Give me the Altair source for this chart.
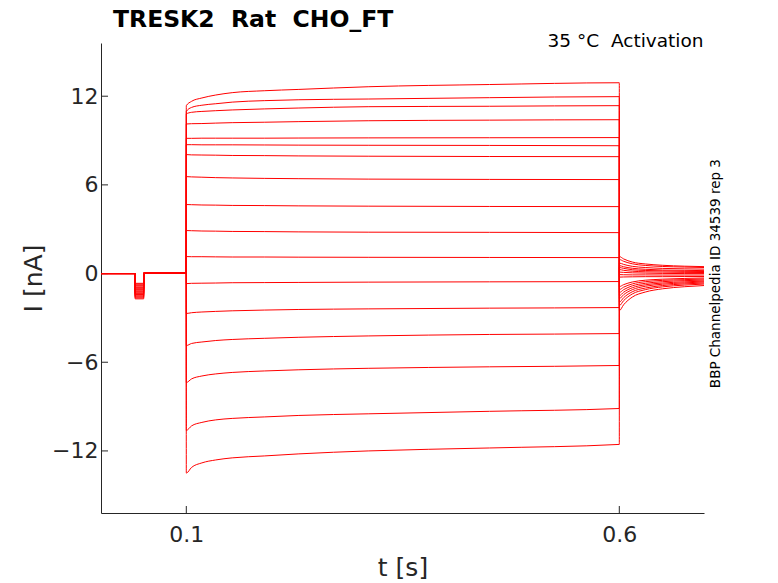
import altair as alt
import pandas as pd

# ---------------- data ----------------
T_DOMAIN = [0.0015, 0.6978]
I_DOMAIN = [-16.2, 15.6]
X_TICKS = [0.1, 0.6]
Y_TICKS = [-12, -6, 0, 6, 12]

PRE_T = [0.0015, 0.0408]          # holding segment (I = 0)
PRE_I = 0.0
PULSE_T = [0.0409, 0.0508]        # short test pulse
POST_T = [0.0509, 0.0999]         # back to holding
POST_I = 0.03
STEP_T = [0.1, 0.106, 0.118, 0.134, 0.153, 0.19, 0.23, 0.31, 0.45, 0.6]
TAIL_T = [0.6001, 0.605, 0.615, 0.63, 0.65, 0.675, 0.6978]

PULSE_I = [-0.66, -0.72, -0.79, -0.85, -0.93, -0.99, -1.05, -1.10, -1.17,
           -1.23, -1.30, -1.36, -1.42, -1.50, -1.57, -1.64, -1.71]

STEP_I = [
    [11.36, 11.65, 11.88, 12.08, 12.24, 12.37, 12.46, 12.64, 12.79, 12.91],
    [10.97, 11.24, 11.39, 11.49, 11.60, 11.70, 11.76, 11.81, 11.90, 11.97],
    [10.80, 10.91, 10.97, 11.02, 11.07, 11.14, 11.20, 11.29, 11.32, 11.36],
    [10.12, 10.14, 10.15, 10.18, 10.21, 10.24, 10.28, 10.34, 10.38, 10.41],
    [9.15, 9.15, 9.16, 9.16, 9.16, 9.16, 9.17, 9.18, 9.19, 9.20],
    [8.72, 8.72, 8.71, 8.71, 8.71, 8.70, 8.69, 8.68, 8.67, 8.65],
    [8.05, 8.03, 8.02, 8.01, 7.99, 7.98, 7.96, 7.94, 7.92, 7.91],
    [6.56, 6.54, 6.52, 6.49, 6.47, 6.44, 6.42, 6.39, 6.37, 6.36],
    [4.67, 4.66, 4.64, 4.63, 4.61, 4.60, 4.58, 4.56, 4.54, 4.53],
    [2.91, 2.90, 2.88, 2.87, 2.85, 2.84, 2.82, 2.80, 2.79, 2.77],
    [1.15, 1.14, 1.14, 1.13, 1.12, 1.12, 1.11, 1.10, 1.09, 1.08],
    [-0.68, -0.66, -0.65, -0.64, -0.62, -0.61, -0.60, -0.58, -0.56, -0.54],
    [-2.70, -2.65, -2.60, -2.56, -2.52, -2.47, -2.43, -2.39, -2.34, -2.30],
    [-4.87, -4.73, -4.63, -4.53, -4.46, -4.38, -4.31, -4.22, -4.12, -4.06],
    [-7.37, -7.13, -6.93, -6.79, -6.69, -6.59, -6.51, -6.41, -6.31, -6.22],
    [-10.61, -10.31, -10.07, -9.90, -9.80, -9.70, -9.60, -9.49, -9.32, -9.13],
    [-13.50, -13.12, -12.81, -12.61, -12.47, -12.34, -12.20, -12.00, -11.80, -11.56],
]

TAIL_I = [
    [-2.50, -2.11, -1.59, -1.25, -1.03, -0.89, -0.81],
    [-2.16, -1.83, -1.38, -1.09, -0.90, -0.78, -0.71],
    [-1.93, -1.63, -1.23, -0.98, -0.81, -0.70, -0.64],
    [-1.69, -1.43, -1.09, -0.86, -0.72, -0.63, -0.57],
    [-1.49, -1.26, -0.96, -0.76, -0.64, -0.56, -0.51],
    [-1.28, -1.09, -0.83, -0.66, -0.55, -0.48, -0.44],
    [-1.08, -0.92, -0.70, -0.55, -0.46, -0.41, -0.37],
    [-0.88, -0.75, -0.57, -0.45, -0.38, -0.33, -0.30],
    [-0.24, -0.23, -0.22, -0.21, -0.21, -0.20, -0.20],
    [-0.07, -0.08, -0.09, -0.09, -0.10, -0.10, -0.10],
    [0.10, 0.08, 0.05, 0.03, 0.01, 0.00, 0.00],
    [0.27, 0.22, 0.16, 0.12, 0.10, 0.08, 0.07],
    [0.41, 0.35, 0.26, 0.21, 0.18, 0.15, 0.14],
    [0.54, 0.46, 0.36, 0.29, 0.24, 0.22, 0.20],
    [0.71, 0.62, 0.49, 0.41, 0.35, 0.32, 0.30],
    [0.95, 0.83, 0.66, 0.55, 0.48, 0.44, 0.41],
    [1.15, 0.99, 0.78, 0.65, 0.56, 0.50, 0.47],
]

TITLE = "TRESK2\u00a0 Rat\u00a0 CHO_FT"
SUBTITLE = "35 °C\u00a0 Activation"
SIDE_NOTE = "BBP Channelpedia ID 34539 rep 3"
X_TITLE = "t [s]"
Y_TITLE = "I [nA]"

# ---------------- build long table ----------------
rows = []
for k in range(len(STEP_I)):
    ts = PRE_T + PULSE_T + POST_T + STEP_T + TAIL_T
    vs = ([PRE_I] * len(PRE_T) + [PULSE_I[k]] * len(PULSE_T)
          + [POST_I] * len(POST_T) + STEP_I[k] + TAIL_I[k])
    for j, (t, v) in enumerate(zip(ts, vs)):
        rows.append({"sweep": k, "seq": j, "t": t, "i": v})
df = pd.DataFrame(rows)

W, H = 603, 470
FONT = "DejaVu Sans"
TXT = "#262626"

xs = alt.Scale(domain=T_DOMAIN, nice=False, zero=False)
ys = alt.Scale(domain=I_DOMAIN, nice=False, zero=False)

x_axis = alt.Axis(
    values=X_TICKS, format=".1f", title=X_TITLE, ticks=False, grid=False,
    labelPadding=11, titlePadding=10, labelFontSize=22, titleFontSize=25,
    titleFontWeight="normal", labelFont=FONT, titleFont=FONT,
    labelColor=TXT, titleColor=TXT, domainColor=TXT, domainWidth=1)
y_axis = alt.Axis(
    values=Y_TICKS, format="d", title=Y_TITLE, ticks=False, grid=False,
    labelPadding=3, titlePadding=5, labelFontSize=22, titleFontSize=25,
    titleFontWeight="normal", labelFont=FONT, titleFont=FONT,
    labelColor=TXT, titleColor=TXT, domainColor=TXT, domainWidth=1)

traces = alt.Chart(df).mark_line(
    color="#ff0000", strokeWidth=1, interpolate="monotone", clip=True
).encode(
    x=alt.X("t:Q", scale=xs, axis=x_axis),
    y=alt.Y("i:Q", scale=ys, axis=y_axis),
    detail="sweep:N",
    order="seq:Q",
)

xtick = alt.Chart(pd.DataFrame({"t": X_TICKS})).mark_rule(
    color=TXT, strokeWidth=1
).encode(x=alt.X("t:Q", scale=xs, axis=x_axis), y=alt.value(H - 7), y2=alt.value(H))

ytick = alt.Chart(pd.DataFrame({"i": Y_TICKS})).mark_rule(
    color=TXT, strokeWidth=1
).encode(y=alt.Y("i:Q", scale=ys, axis=y_axis), x=alt.value(0), x2=alt.value(7))

title = alt.Chart(pd.DataFrame({"s": [TITLE]})).mark_text(
    font=FONT, fontSize=23.5, fontWeight="bold", color="#000000",
    align="left", baseline="alphabetic"
).encode(x=alt.value(12), y=alt.value(-16), text="s:N")

sub = alt.Chart(pd.DataFrame({"s": [SUBTITLE]})).mark_text(
    font=FONT, fontSize=18.5, color="#000000",
    align="right", baseline="alphabetic"
).encode(x=alt.value(602.5), y=alt.value(4.3), text="s:N")

side = alt.Chart(pd.DataFrame({"s": [SIDE_NOTE]})).mark_text(
    font=FONT, fontSize=13.5, color="#000000", angle=270,
    align="center", baseline="alphabetic"
).encode(x=alt.value(619), y=alt.value(230.6), text="s:N")

chart = alt.layer(xtick, ytick, traces, title, sub, side).properties(
    width=W, height=H,
    background="white",
    autosize=alt.AutoSizeParams(type="none"),
    padding={"left": 93, "top": 35, "right": 66, "bottom": 68},
).configure_view(stroke=None).configure_axis(grid=False)

chart.save("out.html", embed_options={"renderer": "svg", "actions": False})
